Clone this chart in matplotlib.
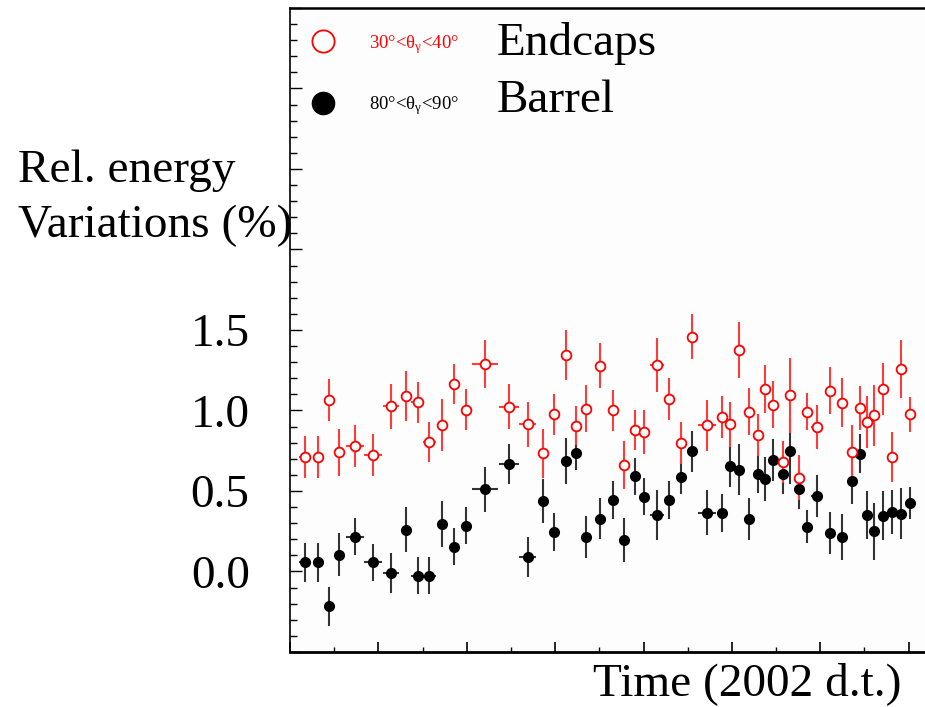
import numpy as np
import matplotlib
matplotlib.use('Agg')
import matplotlib.pyplot as plt
from matplotlib.lines import Line2D
from matplotlib.ticker import MultipleLocator, FuncFormatter

plt.rcParams['font.family'] = ['Liberation Serif', 'DejaVu Serif']
plt.rcParams['mathtext.fontset'] = 'custom'
plt.rcParams['mathtext.rm'] = 'Liberation Serif'
plt.rcParams['mathtext.it'] = 'Liberation Serif'

days = [3.4, 6.4, 8.8, 11.2, 14.7, 18.8, 22.9, 26.2, 28.9, 31.5,
        34.5, 37.1, 39.8, 44.2, 49.6, 53.8, 57.2, 59.8, 62.4, 64.7,
        67.0, 70.2, 73.1, 75.5, 78.0, 80.2, 83.0, 85.8, 88.4, 91.0,
        94.4, 97.7, 99.6, 101.7, 103.8, 105.9, 107.4, 109.3, 111.5, 113.2,
        115.2, 117.1, 119.2, 122.2, 124.9, 127.2, 129.0, 130.6, 132.2, 134.2,
        136.2, 138.3, 140.3]
day_err = [1.3, 1.3, 1.0, 1.0, 2.0, 2.0, 1.8, 1.0, 1.5, 1.5,
           1.0, 1.0, 1.0, 2.9, 2.2, 1.9, 1.0, 1.0, 1.0, 1.0,
           1.0, 1.0, 1.0, 1.0, 1.0, 1.0, 1.6, 1.0, 1.0, 1.0,
           2.0, 1.0, 1.0, 1.0, 1.0, 1.0, 1.0, 1.0, 1.0, 1.0,
           1.0, 1.0, 1.2, 1.0, 1.0, 1.0, 1.0, 1.0, 1.0, 1.0,
           1.0, 1.0, 1.0]

# endcaps 30-40 graden
endcap = [0.71, 0.71, 1.065, 0.74, 0.78, 0.725, 1.025, 1.087, 1.05, 0.806,
          0.91, 1.165, 1.006, 1.287, 1.023, 0.913, 0.733, 0.975, 1.345, 0.905,
          1.012, 1.279, 1.0, 0.66, 0.88, 0.866, 1.283, 1.072, 0.80, 1.459,
          0.907, 0.959, 0.915, 1.374, 0.992, 0.845, 1.133, 1.037, 0.68, 1.093,
          0.583, 0.992, 0.897, 1.124, 1.048, 0.744, 1.017, 0.928, 0.969, 1.133,
          0.711, 1.258, 0.975]
endcap_err = [0.13, 0.13, 0.13, 0.145, 0.13, 0.13, 0.14, 0.155, 0.125, 0.125,
              0.16, 0.125, 0.13, 0.15, 0.14, 0.14, 0.15, 0.13, 0.153, 0.12,
              0.144, 0.14, 0.13, 0.15, 0.124, 0.135, 0.17, 0.13, 0.13, 0.14,
              0.16, 0.13, 0.14, 0.175, 0.145, 0.13, 0.15, 0.145, 0.13, 0.235,
              0.14, 0.115, 0.137, 0.144, 0.153, 0.163, 0.136, 0.16, 0.19, 0.164,
              0.155, 0.18, 0.108]

# barrel 80-90 graden
barrel = [0.056, 0.056, -0.217, 0.105, 0.215, 0.056, -0.01, 0.26, -0.025, -0.025,
          0.293, 0.155, 0.285, 0.51, 0.667, 0.091, 0.44, 0.246, 0.688, 0.738,
          0.215, 0.327, 0.444, 0.198, 0.591, 0.465, 0.349, 0.442, 0.587, 0.746,
          0.366, 0.364, 0.653, 0.632, 0.327, 0.605, 0.574, 0.692, 0.603, 0.746,
          0.515, 0.277, 0.471, 0.238, 0.213, 0.562, 0.73, 0.349, 0.25, 0.347,
          0.368, 0.36, 0.424]
barrel_err = [0.12, 0.12, 0.12, 0.134, 0.115, 0.117, 0.126, 0.14, 0.113, 0.115,
              0.143, 0.113, 0.117, 0.14, 0.122, 0.124, 0.137, 0.119, 0.142, 0.11,
              0.132, 0.127, 0.117, 0.137, 0.114, 0.117, 0.154, 0.118, 0.103, 0.126,
              0.14, 0.116, 0.129, 0.157, 0.132, 0.116, 0.136, 0.132, 0.119, 0.2,
              0.124, 0.103, 0.131, 0.131, 0.142, 0.142, 0.121, 0.148, 0.178, 0.15,
              0.137, 0.16, 0.098]

fig = plt.figure(figsize=(9.25, 7.07), dpi=100)
ax = fig.add_axes([0.3135, 0.0778, 0.6865, 0.911])
ax.set_facecolor('#fdfdfd')

ax.errorbar(days, barrel, yerr=barrel_err, xerr=day_err, fmt='o', ms=7,
            color='black', ecolor='#333333', elinewidth=1.5, capsize=0)
ax.errorbar(days, endcap, yerr=endcap_err, xerr=day_err, fmt='o', ms=7,
            mfc='white', mec='red', mew=1.3, ecolor='#ff3c3c', elinewidth=1.5, capsize=0)

ax.set_xlim(0, 143.7)
ax.set_ylim(-0.5, 3.5)

ax.xaxis.set_major_locator(MultipleLocator(20))
ax.xaxis.set_minor_locator(MultipleLocator(10))
ax.yaxis.set_major_locator(MultipleLocator(0.5))
ax.yaxis.set_minor_locator(MultipleLocator(0.1))
ax.yaxis.set_major_formatter(FuncFormatter(lambda v, p: f'{v:.1f}' if -0.01 < v < 1.51 else ''))

ax.tick_params(axis='x', which='major', direction='in', length=7.2, width=1.2,
               labelbottom=False, top=False)
ax.tick_params(axis='x', which='minor', direction='in', length=3.6, width=1.0, top=False)
ax.tick_params(axis='y', which='major', direction='in', length=8.5, width=1.0,
               labelsize=34, pad=29, right=False)
ax.tick_params(axis='y', which='minor', direction='in', length=5, width=1.0, right=False)

ax.spines['right'].set_visible(False)
ax.spines['bottom'].set_linewidth(2)
ax.spines['left'].set_linewidth(1.2)
ax.spines['top'].set_linewidth(1.8)

# legende
h_end = Line2D([], [], ls='none', marker='o', ms=16, mfc='white', mec='red', mew=1.3)
h_bar = Line2D([], [], ls='none', marker='o', ms=16, color='black')
leg = ax.legend([h_end, h_bar], [r'30°<$\theta_{\gamma}$<40°', r'80°<$\theta_{\gamma}$<90°'],
                loc='upper left', bbox_to_anchor=(0.0094, 0.982), frameon=False, fontsize=13.5,
                handlelength=1.5, handletextpad=1.7, labelspacing=2.05,
                borderaxespad=0, borderpad=0.7)
leg.get_texts()[0].set_color('red')

fig.text(497/925, 0.9222, 'Endcaps', fontsize=34, va='baseline')
fig.text(497/925, 0.8416, 'Barrel', fontsize=34, va='baseline')

fig.text(0.0195, 0.7426, 'Rel. energy', fontsize=34, va='baseline')
fig.text(0.0195, 0.6648, 'Variations (%)', fontsize=34, va='baseline')
fig.text(593/925, 0.017, 'Time (2002 d.t.)', fontsize=34, va='baseline')

fig.savefig('out.png', dpi=100)
